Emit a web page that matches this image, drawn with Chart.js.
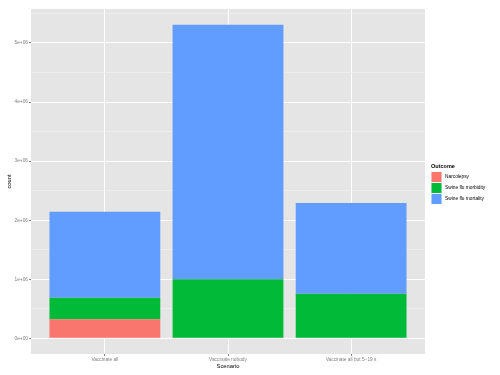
<!DOCTYPE html>
<html>
<head>
<meta charset="utf-8">
<script src="https://cdn.jsdelivr.net/npm/chart.js@4.4.0/dist/chart.umd.min.js"></script>
<style>
  html, body { margin: 0; padding: 0; background: #fff; }
  #wrap { width: 500px; height: 375px; }
</style>
</head>
<body>
<div id="wrap"><canvas id="chart" width="500" height="375"></canvas></div>
<script>
// data
const scenarios = ['Vaccinate all', 'Vaccinate nobody', 'Vaccinate all but 5\u221219 s'];
const outcomes = ['Narcolepsy', 'Swine flu morbidity', 'Swine flu mortality'];
const narcolepsy = [322000, 0, 0];
const morbidity = [366000, 1000000, 756000];
const mortality = [1453000, 4310000, 1537000];
const yTicks = [0, 1000000, 2000000, 3000000, 4000000, 5000000];
const yMinorTicks = [500000, 1500000, 2500000, 3500000, 4500000, 5500000];

const colors = ['#F8766D', '#00BA38', '#619CFF'];
const FONT = '"Liberation Sans", Arial, sans-serif';

// ggplot style number format: 2e+06
function sci(v) {
  if (v === 0) return '0e+00';
  const e = Math.floor(Math.log10(Math.abs(v)));
  const m = Math.round(v / Math.pow(10, e));
  return m + 'e' + (e < 0 ? '-' : '+') + String(Math.abs(e)).padStart(2, '0');
}

// x positions 1..n so that the panel can have ggplot's 0.6 expansion
function toPoints(arr) {
  return arr.map((v, i) => ({ x: i + 1, y: v }));
}

const totals = scenarios.map((_, i) => narcolepsy[i] + morbidity[i] + mortality[i]);
const yTop = Math.max(...totals);
const yPad = yTop * 0.05;

// grey panel behind everything
const panelBg = {
  id: 'panelBg',
  beforeDraw(chart) {
    const { ctx, chartArea: a } = chart;
    ctx.save();
    ctx.fillStyle = '#E5E5E5';
    ctx.fillRect(a.left, a.top, a.right - a.left, a.bottom - a.top);
    ctx.restore();
  }
};

// legend drawn like ggplot's guide
const ggLegend = {
  id: 'ggLegend',
  afterDraw(chart) {
    const { ctx } = chart;
    const x = 431, y0 = 171.5, key = 11;
    ctx.save();
    ctx.fillStyle = '#000';
    ctx.font = 'bold 5.5px ' + FONT;
    ctx.textBaseline = 'middle';
    ctx.textAlign = 'left';
    ctx.fillText('Outcome', x, y0 - 5);
    chart.data.datasets.forEach((ds, i) => {
      const y = y0 + i * key;
      ctx.fillStyle = '#F2F2F2';
      ctx.fillRect(x, y, key, key);
      ctx.fillStyle = ds.backgroundColor;
      ctx.fillRect(x + 0.5, y + 0.5, key - 1, key - 1);
      ctx.fillStyle = '#000';
      ctx.font = '4.8px ' + FONT;
      ctx.fillText(ds.label, x + 14, y + key / 2);
    });
    ctx.restore();
  }
};

const series = [narcolepsy, morbidity, mortality];

new Chart(document.getElementById('chart'), {
  type: 'bar',
  data: {
    datasets: outcomes.map((name, i) => ({
      label: name,
      data: toPoints(series[i]),
      backgroundColor: colors[i],
      borderWidth: 0,
      categoryPercentage: 0.9,
      barPercentage: 1
    }))
  },
  options: {
    responsive: false,
    animation: false,
    devicePixelRatio: 1,
    layout: { padding: { left: 0, right: 75, top: 9, bottom: 0 } },
    plugins: {
      legend: { display: false },
      tooltip: { enabled: false }
    },
    scales: {
      x: {
        type: 'linear',
        stacked: true,
        offset: false,
        min: 0.4,
        max: scenarios.length + 0.6,
        afterBuildTicks(scale) {
          scale.ticks = scenarios.map((_, i) => ({ value: i + 1 }));
        },
        afterFit(scale) { scale.height = 21; },
        border: { display: false },
        grid: {
          offset: false,
          color: '#FFFFFF',
          lineWidth: 1,
          tickColor: '#7F7F7F',
          tickLength: 2
        },
        ticks: {
          autoSkip: false,
          maxRotation: 0,
          padding: 1,
          color: '#7F7F7F',
          font: { family: FONT, size: 4.8 },
          callback: (v) => scenarios[v - 1] || ''
        },
        title: {
          display: true,
          text: 'Scenario',
          color: '#000',
          font: { family: FONT, size: 5.8 },
          padding: { top: 0, bottom: 5 }
        }
      },
      y: {
        stacked: true,
        min: -yPad,
        max: yTop + yPad,
        afterBuildTicks(scale) {
          scale.ticks = yTicks.concat(yMinorTicks).sort((a, b) => a - b).map(v => ({ value: v }));
        },
        afterFit(scale) { scale.width = 31; },
        border: { display: false },
        grid: {
          color: (c) => (c.tick && yTicks.includes(c.tick.value)) ? '#FFFFFF' : '#F2F2F2',
          lineWidth: (c) => (c.tick && yTicks.includes(c.tick.value)) ? 1 : 0.6,
          tickColor: (c) => (c.tick && yTicks.includes(c.tick.value)) ? '#7F7F7F' : 'rgba(0,0,0,0)',
          tickLength: 2
        },
        ticks: {
          autoSkip: false,
          padding: 1,
          color: '#7F7F7F',
          font: { family: FONT, size: 4.8 },
          callback: (v) => yTicks.includes(v) ? sci(v) : ''
        },
        title: {
          display: true,
          text: 'count',
          color: '#000',
          font: { family: FONT, size: 5.8 },
          padding: { top: 6, bottom: 0 }
        }
      }
    }
  },
  plugins: [panelBg, ggLegend]
});
</script>
</body>
</html>
